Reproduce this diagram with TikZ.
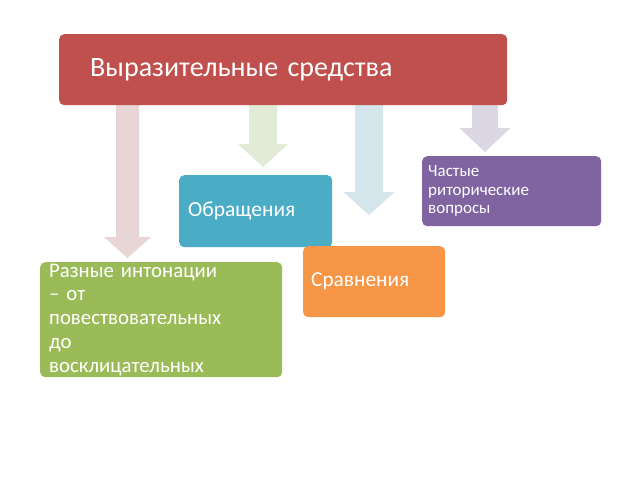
\documentclass[tikz,border=0pt]{standalone}
\usepackage{fontspec}
\setmainfont{Carlito}
\definecolor{cred}{HTML}{C0504D}
\definecolor{cblue}{HTML}{4BACC6}
\definecolor{cgreen}{HTML}{9BBB59}
\definecolor{corange}{HTML}{F79646}
\definecolor{cpurple}{HTML}{8064A2}
\definecolor{apink}{HTML}{E8D5D5}
\definecolor{agreen}{HTML}{E2EBD8}
\definecolor{ablue}{HTML}{D4E5EB}
\definecolor{alav}{HTML}{DCD7E5}
\newcommand\blockarrowdraw[7]{% color, cx, top, base, tip, half shaft, half head
  \fill[#1] (#2-#6,#3) -- (#2-#6,#4) -- (#2-#7,#4) -- (#2,#5) -- (#2+#7,#4) -- (#2+#6,#4) -- (#2+#6,#3) -- cycle;}
\begin{document}
\begin{tikzpicture}[x=1pt,y=-1pt,
  box/.style={rounded corners=5pt, anchor=north west, text=white, inner ysep=0pt, align=left},
]
\useasboundingbox[fill=white] (0,0) rectangle (640,480);
% arrows
\blockarrowdraw{apink}{127.5}{100}{237}{258}{11.5}{23.5}
\blockarrowdraw{agreen}{263}{100}{144}{167}{14}{25}
\blockarrowdraw{ablue}{369}{100}{192}{215}{14}{25.5}
\blockarrowdraw{alav}{485}{100}{128}{152}{13}{25.5}
% banner
\node[box, fill=cred, minimum width=448pt, minimum height=71pt, inner xsep=31pt, text width=386pt,
  font=\fontsize{28}{33}\selectfont] (top) at (59,34) {Выразительные средства};
% boxes
\node[box, fill=cblue, minimum width=153pt, minimum height=72pt, inner xsep=9pt, text width=135pt,
  font=\fontsize{21.5}{25}\selectfont] (obr) at (179,175) {Обращения};
\node[box, fill=corange, minimum width=142pt, minimum height=71pt, inner xsep=8pt, text width=126pt,
  font=\fontsize{21.3}{25}\selectfont] (srav) at (303,246) {Сравнения};
\node[box, fill=cpurple, minimum width=179pt, minimum height=70pt, inner xsep=6pt, text width=167pt,
  font=\fontsize{17}{18.5}\selectfont] (chast) at (422,156) {Частые\\риторические\\вопросы};
\node[box, fill=cgreen, minimum width=242pt, minimum height=115pt, inner xsep=9pt, text width=224pt,
  font=\fontsize{20.8}{23.7}\selectfont] (razn) at (40,262) {Разные интонации\\– от\\повествовательных\\до\\восклицательных};
\end{tikzpicture}
\end{document}
